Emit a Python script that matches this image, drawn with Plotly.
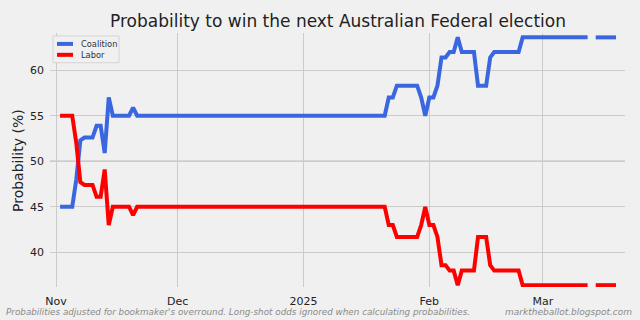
import pandas as pd
import plotly.graph_objects as go

# ---- data ----
dates = pd.date_range("2024-11-02", "2025-03-19", freq="D").strftime("%Y-%m-%d").tolist()

coalition = [
    45.0, 45.0, 45.0, 45.0, 48.0, 52.3, 52.6, 52.6, 52.6, 53.9,
    53.9, 50.9, 57.0, 55.0, 55.0, 55.0, 55.0, 55.0, 55.9, 55.0,
    55.0, 55.0, 55.0, 55.0, 55.0, 55.0, 55.0, 55.0, 55.0, 55.0,
    55.0, 55.0, 55.0, 55.0, 55.0, 55.0, 55.0, 55.0, 55.0, 55.0,
    55.0, 55.0, 55.0, 55.0, 55.0, 55.0, 55.0, 55.0, 55.0, 55.0,
    55.0, 55.0, 55.0, 55.0, 55.0, 55.0, 55.0, 55.0, 55.0, 55.0,
    55.0, 55.0, 55.0, 55.0, 55.0, 55.0, 55.0, 55.0, 55.0, 55.0,
    55.0, 55.0, 55.0, 55.0, 55.0, 55.0, 55.0, 55.0, 55.0, 55.0,
    55.0, 57.0, 57.0, 58.3, 58.3, 58.3, 58.3, 58.3, 58.3, 57.0,
    55.0, 57.0, 57.0, 58.3, 61.4, 61.4, 62.0, 62.0, 63.6, 62.0,
    62.0, 62.0, 62.0, 58.3, 58.3, 58.3, 61.4, 62.0, 62.0, 62.0,
    62.0, 62.0, 62.0, 62.0, 63.6, 63.6, 63.6, 63.6, 63.6, 63.6,
    63.6, 63.6, 63.6, 63.6, 63.6, 63.6, 63.6, 63.6, 63.6, 63.6,
    63.6, None, 63.6, 63.6, 63.6, 63.6, 63.6, 63.6,
]

labor = [
    55.0, 55.0, 55.0, 55.0, 52.0, 47.7, 47.4, 47.4, 47.4, 46.1,
    46.1, 49.1, 43.0, 45.0, 45.0, 45.0, 45.0, 45.0, 44.1, 45.0,
    45.0, 45.0, 45.0, 45.0, 45.0, 45.0, 45.0, 45.0, 45.0, 45.0,
    45.0, 45.0, 45.0, 45.0, 45.0, 45.0, 45.0, 45.0, 45.0, 45.0,
    45.0, 45.0, 45.0, 45.0, 45.0, 45.0, 45.0, 45.0, 45.0, 45.0,
    45.0, 45.0, 45.0, 45.0, 45.0, 45.0, 45.0, 45.0, 45.0, 45.0,
    45.0, 45.0, 45.0, 45.0, 45.0, 45.0, 45.0, 45.0, 45.0, 45.0,
    45.0, 45.0, 45.0, 45.0, 45.0, 45.0, 45.0, 45.0, 45.0, 45.0,
    45.0, 43.0, 43.0, 41.7, 41.7, 41.7, 41.7, 41.7, 41.7, 43.0,
    45.0, 43.0, 43.0, 41.7, 38.6, 38.6, 38.0, 38.0, 36.4, 38.0,
    38.0, 38.0, 38.0, 41.7, 41.7, 41.7, 38.6, 38.0, 38.0, 38.0,
    38.0, 38.0, 38.0, 38.0, 36.4, 36.4, 36.4, 36.4, 36.4, 36.4,
    36.4, 36.4, 36.4, 36.4, 36.4, 36.4, 36.4, 36.4, 36.4, 36.4,
    36.4, None, 36.4, 36.4, 36.4, 36.4, 36.4, 36.4,
]

series_names = ["Coalition", "Labor"]
series_colors = ["#3a66e0", "#ff0000"]

x_tickvals = ["2024-11-01", "2024-12-01", "2025-01-01", "2025-02-01", "2025-03-01"]
x_ticktext = ["Nov", "Dec", "2025", "Feb", "Mar"]
y_tickvals = [40, 45, 50, 55, 60]

title_text = "Probability to win the next Australian Federal election"
ylabel_text = "Probability (%)"
footer_left = "Probabilities adjusted for bookmaker's overround. Long-shot odds ignored when calculating probabilities."
footer_right = "marktheballot.blogspot.com"

# ---- layout geometry (pixels) ----
W, H = 640, 320
L, R, T, B = 50, 15, 33, 31
PW, PH = W - L - R, H - T - B
BG = "#f0f0f0"
FONT = "DejaVu Sans"


def px(x):
    return (x - L) / PW


def py(y):
    return (H - B - y) / PH


fig = go.Figure()
for name, vals, col in zip(series_names, [coalition, labor], series_colors):
    fig.add_trace(go.Scatter(x=dates, y=vals, mode="lines", name=name,
                             line=dict(color=col, width=4), connectgaps=False,
                             showlegend=False))

shapes = [
    dict(type="line", xref="paper", yref="y", x0=0, x1=1, y0=50, y1=50,
         line=dict(color="#858585", width=1), layer="below"),
    # legend box
    dict(type="rect", xref="paper", yref="paper", x0=px(53), x1=px(119),
         y0=py(63), y1=py(36), fillcolor=BG, line=dict(color="#d4d4d4", width=1)),
]
annotations = [
    dict(text=ylabel_text, xref="paper", yref="paper", x=px(18), y=py(162),
         textangle=-90, showarrow=False, font=dict(family=FONT, size=14, color="#222222"),
         xanchor="center", yanchor="middle"),
    dict(text=footer_left, xref="paper", yref="paper", x=px(4), y=py(314),
         showarrow=False, xanchor="left", yanchor="middle",
         font=dict(family=FONT, size=8.8, color="#8a8a8a", style="italic")),
    dict(text=footer_right, xref="paper", yref="paper", x=px(634), y=py(314),
         showarrow=False, xanchor="right", yanchor="middle",
         font=dict(family=FONT, size=9, color="#8a8a8a", style="italic")),
]
for i, (name, col) in enumerate(zip(series_names, series_colors)):
    yy = 44 + i * 11
    shapes.append(dict(type="line", xref="paper", yref="paper", x0=px(57), x1=px(73),
                       y0=py(yy), y1=py(yy), line=dict(color=col, width=4)))
    annotations.append(dict(text=name, xref="paper", yref="paper", x=px(78.5), y=py(yy),
                            showarrow=False, xanchor="left", yanchor="middle",
                            font=dict(family=FONT, size=8.3, color="#333333")))

fig.update_layout(
    width=W, height=H,
    margin=dict(l=L, r=R, t=T, b=B, pad=0),
    paper_bgcolor=BG, plot_bgcolor=BG,
    font=dict(family=FONT, color="#222222"),
    title=dict(text=title_text, x=338 / W, xanchor="center", xref="container",
               y=1 - 21.5 / H, yanchor="middle", yref="container",
               font=dict(family=FONT, size=17, color="#222222")),
    shapes=shapes, annotations=annotations,
    xaxis=dict(type="date", range=["2024-10-30 12:30", "2025-03-21 05:17"],
               tickvals=x_tickvals, ticktext=x_ticktext, showgrid=True,
               gridcolor="#cbcbcb", gridwidth=1, zeroline=False, showline=False,
               ticks="", tickfont=dict(size=11, family=FONT, color="#222222"),
               ticklabelstandoff=6),
    yaxis=dict(range=[36.2, 64.08], tickvals=y_tickvals, showgrid=True,
               gridcolor="#cbcbcb", gridwidth=1, zeroline=False, showline=False,
               ticks="", tickfont=dict(size=11, family=FONT, color="#222222"),
               ticklabelstandoff=5),
)

fig.write_html("out.html")
